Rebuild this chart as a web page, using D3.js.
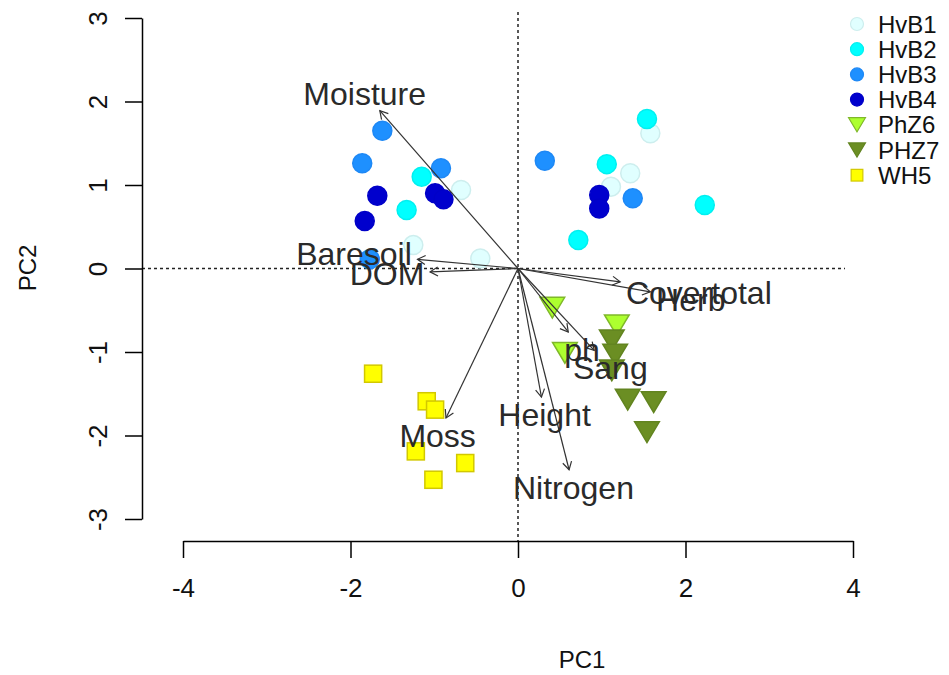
<!DOCTYPE html>
<html>
<head>
<meta charset="utf-8">
<script src="https://cdn.jsdelivr.net/npm/d3@7"></script>
<style>
  body { margin: 0; background: #fff; }
  text { font-family: "Liberation Sans", Arial, sans-serif; }
</style>
</head>
<body>
<svg id="chart" width="949" height="675"></svg>
<script>
// groups (legend order)
const groups = ["HvB1", "HvB2", "HvB3", "HvB4", "PhZ6", "PHZ7", "WH5"];
const groupFill = ["#e0ffff", "#00ffff", "#1e90ff", "#0000cd", "#adff2f", "#6b8e23", "#ffff00"];
const groupEdge = ["#cdeeee", "#00f0f0", "#1e88f5", "#0000c8", "#7fb82a", "#628420", "#d2c800"];
const groupShape = ["circle", "circle", "circle", "circle", "triangle", "triangle", "square"];

// site scores
const siteGroup = [
  "HvB1", "HvB1", "HvB1", "HvB1", "HvB1", "HvB1",
  "HvB2", "HvB2", "HvB2", "HvB2", "HvB2", "HvB2",
  "HvB3", "HvB3", "HvB3", "HvB3", "HvB3", "HvB3",
  "HvB4", "HvB4", "HvB4", "HvB4", "HvB4", "HvB4",
  "PhZ6", "PhZ6", "PhZ6",
  "PHZ7", "PHZ7", "PHZ7", "PHZ7", "PHZ7", "PHZ7",
  "WH5", "WH5", "WH5", "WH5", "WH5", "WH5"
];
const sitePC1 = [
  -0.68, -1.25, -0.45, 1.58, 1.34, 1.11,
  -1.15, -1.33, 1.54, 1.06, 2.23, 0.72,
  -1.62, -1.86, -0.92, -1.77, 0.32, 1.37,
  -1.68, -0.99, -0.89, -1.83, 0.97, 0.97,
  0.41, 1.18, 0.56,
  1.12, 1.16, 1.12, 1.31, 1.62, 1.54,
  -1.73, -1.09, -0.99, -1.22, -0.63, -1.01
];
const sitePC2 = [
  0.94, 0.28, 0.12, 1.62, 1.14, 0.98,
  1.10, 0.70, 1.79, 1.25, 0.76, 0.34,
  1.65, 1.26, 1.20, 0.11, 1.29, 0.84,
  0.87, 0.90, 0.83, 0.57, 0.88, 0.72,
  -0.47, -0.68, -1.01,
  -0.86, -1.03, -1.22, -1.57, -1.60, -1.96,
  -1.26, -1.59, -1.69, -2.19, -2.33, -2.53
];

// environmental vectors
const varNames = ["Moisture", "Baresoil", "DOM", "Covertotal", "Herb", "ph", "Sang", "Height", "Nitrogen", "Moss"];
const varPC1 = [-1.65, -1.20, -1.05, 1.22, 1.58, 0.60, 0.91, 0.28, 0.61, -0.86];
const varPC2 = [1.89, 0.11, -0.04, -0.16, -0.28, -0.76, -0.98, -1.54, -2.41, -1.79];

const xTicks = [-4, -2, 0, 2, 4];
const yTicks = [-3, -2, -1, 0, 1, 2, 3];

const svg = d3.select("#chart");

const x = d3.scaleLinear().domain([-4, 4]).range([183, 853]);
const y = d3.scaleLinear().domain([-3, 3]).range([519, 18]);

const plotLeft = 142, plotRight = 845, plotTop = 12, plotBottom = 541;

// zero lines
svg.append("line")
  .attr("x1", plotLeft).attr("x2", plotRight)
  .attr("y1", y(0)).attr("y2", y(0))
  .attr("stroke", "#222").attr("stroke-width", 1.5).attr("stroke-dasharray", "3,3");
svg.append("line")
  .attr("x1", x(0)).attr("x2", x(0))
  .attr("y1", plotTop).attr("y2", plotBottom)
  .attr("stroke", "#222").attr("stroke-width", 1.5).attr("stroke-dasharray", "3,3");

const fmt = d => String(d);

// x axis
const gx = svg.append("g")
  .attr("transform", "translate(0," + plotBottom + ")")
  .call(d3.axisBottom(x).tickValues(xTicks).tickSize(17).tickSizeOuter(0).tickPadding(21).tickFormat(fmt));
gx.selectAll("path,line").attr("stroke", "#000").attr("stroke-width", 1.5);
gx.selectAll("text").attr("font-size", 26).attr("fill", "#111").style("font-family", "Liberation Sans, Arial, sans-serif");

// y axis
const gy = svg.append("g")
  .attr("transform", "translate(" + plotLeft + ",0)")
  .call(d3.axisLeft(y).tickValues(yTicks).tickSize(17).tickSizeOuter(0).tickFormat(fmt));
gy.selectAll("path,line").attr("stroke", "#000").attr("stroke-width", 1.5);
gy.selectAll("text")
  .attr("x", null).attr("dy", null)
  .attr("text-anchor", "middle")
  .attr("transform", "translate(-35,0) rotate(-90)")
  .attr("font-size", 26).attr("fill", "#111")
  .style("font-family", "Liberation Sans, Arial, sans-serif");

// axis titles
svg.append("text")
  .attr("x", 582).attr("y", 668)
  .attr("text-anchor", "middle").attr("font-size", 24).attr("fill", "#111")
  .text("PC1");
svg.append("text")
  .attr("transform", "translate(36," + 268 + ") rotate(-90)")
  .attr("text-anchor", "middle").attr("font-size", 24).attr("fill", "#111")
  .text("PC2");

// symbols
function drawSymbol(g, shape, size) {
  if (shape === "circle") {
    return g.append("circle").attr("r", size / 2);
  }
  if (shape === "triangle") {
    const w = size * 1.3, h = w * 0.84;
    return g.append("path").attr("d", `M${-w / 2},${-h / 2}L${w / 2},${-h / 2}L0,${h / 2}Z`);
  }
  return g.append("rect").attr("x", -size * 0.45).attr("y", -size * 0.45)
    .attr("width", size * 0.9).attr("height", size * 0.9);
}

const sites = siteGroup.map((g, i) => ({ g, gi: groups.indexOf(g), pc1: sitePC1[i], pc2: sitePC2[i] }));
sites.sort((a, b) => a.gi - b.gi);

const pts = svg.append("g");
sites.forEach(d => {
  const g = pts.append("g").attr("transform", `translate(${x(d.pc1)},${y(d.pc2)})`);
  drawSymbol(g, groupShape[d.gi], 19)
    .attr("fill", groupFill[d.gi])
    .attr("stroke", groupEdge[d.gi])
    .attr("stroke-width", 1.5);
});

// arrows
const x0 = x(0), y0 = y(0);
const arrowG = svg.append("g");
const labelG = svg.append("g");
const fs = 32;
const strH = fs * 0.72;

varNames.forEach((name, i) => {
  const tx = x(varPC1[i]), ty = y(varPC2[i]);
  const dx = tx - x0, dy = ty - y0;
  arrowG.append("line")
    .attr("x1", x0).attr("y1", y0).attr("x2", tx).attr("y2", ty)
    .attr("stroke", "#333").attr("stroke-width", 1.2);
  const ang = Math.atan2(dy, dx);
  const hl = 9, ha = Math.PI / 6;
  arrowG.append("path")
    .attr("d", `M${tx - hl * Math.cos(ang - ha)},${ty - hl * Math.sin(ang - ha)}L${tx},${ty}L${tx - hl * Math.cos(ang + ha)},${ty - hl * Math.sin(ang + ha)}`)
    .attr("fill", "none").attr("stroke", "#333").attr("stroke-width", 1.2);

  // label placed beyond the arrow head, box touching arrow continuation
  const t = labelG.append("text")
    .attr("text-anchor", "middle").attr("font-size", fs).attr("fill", "#2a2a2a")
    .text(name);
  const w = t.node().getComputedTextLength();
  const b = dy / dx;
  let ox = Math.sign(dx) * (w / 2 + strH / 4);
  let oy = 0.75 * strH * Math.sign(dy);
  const move = oy / b;
  if (isFinite(move) && Math.abs(move) <= Math.abs(ox)) ox = move;
  else oy = b * ox;
  t.attr("x", tx + ox).attr("y", ty + oy + strH / 2);
});

// legend
const legend = svg.append("g").attr("transform", "translate(857,24)");
groups.forEach((g, i) => {
  const row = legend.append("g").attr("transform", `translate(0,${i * 25.2})`);
  drawSymbol(row, groupShape[i], 13)
    .attr("fill", groupFill[i]).attr("stroke", groupEdge[i]).attr("stroke-width", 1.2);
  row.append("text").attr("x", 21).attr("y", 8.5)
    .attr("font-size", 24).attr("fill", "#111").text(g);
});
</script>
</body>
</html>
